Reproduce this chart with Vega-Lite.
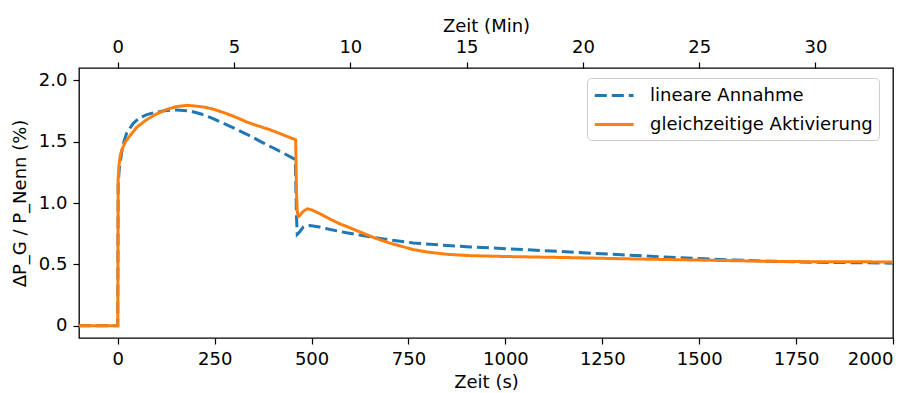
{
  "$schema": "https://vega.github.io/schema/vega-lite/v6.json",
  "width": 814,
  "height": 270,
  "autosize": {"type": "none"},
  "padding": {"left": 79, "top": 68, "right": 24, "bottom": 55},
  "config": {
    "font": "DejaVu Sans",
    "view": {"stroke": "black", "strokeWidth": 1.3},
    "axis": {
      "domain": false,
      "grid": false,
      "tickColor": "black",
      "tickSize": 6,
      "tickWidth": 1.2,
      "labelFont": "DejaVu Sans",
      "labelFontSize": 18,
      "labelColor": "black",
      "labelPadding": 6,
      "titleFont": "DejaVu Sans",
      "titleFontSize": 18,
      "titleFontWeight": "normal",
      "titleColor": "black"
    }
  },
  "datasets": {
    "curves": [
      {"t": -100, "series": "lineare Annahme", "v": 0},
      {"t": 0, "series": "lineare Annahme", "v": 0},
      {"t": 1, "series": "lineare Annahme", "v": 1.15},
      {"t": 4, "series": "lineare Annahme", "v": 1.28},
      {"t": 10, "series": "lineare Annahme", "v": 1.41},
      {"t": 16, "series": "lineare Annahme", "v": 1.5},
      {"t": 23, "series": "lineare Annahme", "v": 1.57},
      {"t": 40, "series": "lineare Annahme", "v": 1.65},
      {"t": 57, "series": "lineare Annahme", "v": 1.695},
      {"t": 75, "series": "lineare Annahme", "v": 1.72},
      {"t": 92, "series": "lineare Annahme", "v": 1.735},
      {"t": 120, "series": "lineare Annahme", "v": 1.752},
      {"t": 152, "series": "lineare Annahme", "v": 1.758},
      {"t": 186, "series": "lineare Annahme", "v": 1.75},
      {"t": 215, "series": "lineare Annahme", "v": 1.725},
      {"t": 246, "series": "lineare Annahme", "v": 1.687},
      {"t": 290, "series": "lineare Annahme", "v": 1.625},
      {"t": 333, "series": "lineare Annahme", "v": 1.56},
      {"t": 375, "series": "lineare Annahme", "v": 1.49},
      {"t": 419, "series": "lineare Annahme", "v": 1.42},
      {"t": 458, "series": "lineare Annahme", "v": 1.355},
      {"t": 461, "series": "lineare Annahme", "v": 0.9},
      {"t": 463, "series": "lineare Annahme", "v": 0.745},
      {"t": 468, "series": "lineare Annahme", "v": 0.76},
      {"t": 479, "series": "lineare Annahme", "v": 0.805},
      {"t": 496, "series": "lineare Annahme", "v": 0.816},
      {"t": 520, "series": "lineare Annahme", "v": 0.805},
      {"t": 548, "series": "lineare Annahme", "v": 0.784},
      {"t": 590, "series": "lineare Annahme", "v": 0.757},
      {"t": 650, "series": "lineare Annahme", "v": 0.725},
      {"t": 700, "series": "lineare Annahme", "v": 0.7},
      {"t": 762, "series": "lineare Annahme", "v": 0.675},
      {"t": 830, "series": "lineare Annahme", "v": 0.658},
      {"t": 909, "series": "lineare Annahme", "v": 0.642},
      {"t": 1000, "series": "lineare Annahme", "v": 0.628},
      {"t": 1100, "series": "lineare Annahme", "v": 0.612},
      {"t": 1167, "series": "lineare Annahme", "v": 0.6},
      {"t": 1300, "series": "lineare Annahme", "v": 0.578},
      {"t": 1425, "series": "lineare Annahme", "v": 0.558},
      {"t": 1550, "series": "lineare Annahme", "v": 0.54},
      {"t": 1683, "series": "lineare Annahme", "v": 0.525},
      {"t": 1800, "series": "lineare Annahme", "v": 0.517},
      {"t": 2000, "series": "lineare Annahme", "v": 0.51},
      {"t": -100, "series": "gleichzeitige Aktivierung", "v": 0},
      {"t": 0, "series": "gleichzeitige Aktivierung", "v": 0},
      {"t": 1, "series": "gleichzeitige Aktivierung", "v": 1.19},
      {"t": 3, "series": "gleichzeitige Aktivierung", "v": 1.3},
      {"t": 6, "series": "gleichzeitige Aktivierung", "v": 1.38},
      {"t": 10, "series": "gleichzeitige Aktivierung", "v": 1.43},
      {"t": 20, "series": "gleichzeitige Aktivierung", "v": 1.5},
      {"t": 32, "series": "gleichzeitige Aktivierung", "v": 1.55},
      {"t": 50, "series": "gleichzeitige Aktivierung", "v": 1.62},
      {"t": 75, "series": "gleichzeitige Aktivierung", "v": 1.68},
      {"t": 100, "series": "gleichzeitige Aktivierung", "v": 1.725},
      {"t": 125, "series": "gleichzeitige Aktivierung", "v": 1.76},
      {"t": 150, "series": "gleichzeitige Aktivierung", "v": 1.785},
      {"t": 178, "series": "gleichzeitige Aktivierung", "v": 1.796},
      {"t": 200, "series": "gleichzeitige Aktivierung", "v": 1.79},
      {"t": 225, "series": "gleichzeitige Aktivierung", "v": 1.78},
      {"t": 246, "series": "gleichzeitige Aktivierung", "v": 1.765},
      {"t": 275, "series": "gleichzeitige Aktivierung", "v": 1.735},
      {"t": 300, "series": "gleichzeitige Aktivierung", "v": 1.705},
      {"t": 333, "series": "gleichzeitige Aktivierung", "v": 1.66},
      {"t": 360, "series": "gleichzeitige Aktivierung", "v": 1.63},
      {"t": 390, "series": "gleichzeitige Aktivierung", "v": 1.6},
      {"t": 419, "series": "gleichzeitige Aktivierung", "v": 1.565},
      {"t": 459, "series": "gleichzeitige Aktivierung", "v": 1.515},
      {"t": 461, "series": "gleichzeitige Aktivierung", "v": 1.1},
      {"t": 463, "series": "gleichzeitige Aktivierung", "v": 0.93},
      {"t": 466, "series": "gleichzeitige Aktivierung", "v": 0.89},
      {"t": 470, "series": "gleichzeitige Aktivierung", "v": 0.9},
      {"t": 478, "series": "gleichzeitige Aktivierung", "v": 0.93},
      {"t": 489, "series": "gleichzeitige Aktivierung", "v": 0.953},
      {"t": 500, "series": "gleichzeitige Aktivierung", "v": 0.945},
      {"t": 520, "series": "gleichzeitige Aktivierung", "v": 0.915},
      {"t": 550, "series": "gleichzeitige Aktivierung", "v": 0.865},
      {"t": 573, "series": "gleichzeitige Aktivierung", "v": 0.83},
      {"t": 590, "series": "gleichzeitige Aktivierung", "v": 0.81},
      {"t": 620, "series": "gleichzeitige Aktivierung", "v": 0.77},
      {"t": 659, "series": "gleichzeitige Aktivierung", "v": 0.72},
      {"t": 700, "series": "gleichzeitige Aktivierung", "v": 0.675},
      {"t": 763, "series": "gleichzeitige Aktivierung", "v": 0.62},
      {"t": 800, "series": "gleichzeitige Aktivierung", "v": 0.6},
      {"t": 850, "series": "gleichzeitige Aktivierung", "v": 0.582},
      {"t": 909, "series": "gleichzeitige Aktivierung", "v": 0.571},
      {"t": 1000, "series": "gleichzeitige Aktivierung", "v": 0.564},
      {"t": 1167, "series": "gleichzeitige Aktivierung", "v": 0.555},
      {"t": 1300, "series": "gleichzeitige Aktivierung", "v": 0.546},
      {"t": 1425, "series": "gleichzeitige Aktivierung", "v": 0.539},
      {"t": 1550, "series": "gleichzeitige Aktivierung", "v": 0.532},
      {"t": 1683, "series": "gleichzeitige Aktivierung", "v": 0.525},
      {"t": 1800, "series": "gleichzeitige Aktivierung", "v": 0.521},
      {"t": 2000, "series": "gleichzeitige Aktivierung", "v": 0.52}
    ],
    "minutes": [
      {"min": 0},
      {"min": 30}
    ]
  },
  "layer": [
    {
      "layer": [
        {
          "data": {"name": "curves"},
          "transform": [{"filter": "datum.series == 'lineare Annahme'"}],
          "mark": {"type": "line", "strokeWidth": 3, "clip": true},
          "encoding": {
            "x": {"field": "t", "type": "quantitative", "scale": {"domain": [-100, 2000], "nice": false, "zero": false},
                  "axis": {"title": "Zeit (s)", "titlePadding": 5, "values": [0, 250, 500, 750, 1000, 1250, 1500, 1750, 2000], "format": "d"}},
            "y": {"field": "v", "type": "quantitative", "scale": {"domain": [-0.1, 2.1], "nice": false, "zero": false},
                  "axis": {"title": "ΔP_G / P_Nenn (%)", "values": [0, 0.5, 1, 1.5, 2], "labelExpr": "datum.value == 0 ? '0' : format(datum.value, '.1f')", "titlePadding": 9}},
            "color": {"field": "series", "type": "nominal",
                      "scale": {"domain": ["lineare Annahme", "gleichzeitige Aktivierung"], "range": ["#1f77b4", "#ff7f0e"]},
                      "legend": {"title": null, "orient": "none", "legendX": 508, "legendY": 10, "symbolType": "M-1,0H3", "symbolSize": 376, "symbolStrokeWidth": 3, "labelFont": "DejaVu Sans", "labelFontSize": 18, "labelColor": "black", "labelOffset": 34, "labelLimit": 500, "rowPadding": 8, "padding": 6, "fillColor": "white", "strokeColor": "#cccccc", "cornerRadius": 4}},
            "strokeDash": {"field": "series", "type": "nominal",
                           "scale": {"domain": ["lineare Annahme", "gleichzeitige Aktivierung"], "range": [[12, 5], [1, 0]]},
                           "legend": {"title": null, "orient": "none", "legendX": 508, "legendY": 10, "symbolType": "M-1,0H3", "symbolSize": 376, "symbolStrokeWidth": 3, "labelFont": "DejaVu Sans", "labelFontSize": 18, "labelColor": "black", "labelOffset": 34, "labelLimit": 500, "rowPadding": 8, "padding": 6, "fillColor": "white", "strokeColor": "#cccccc", "cornerRadius": 4}}
          }
        },
        {
          "data": {"name": "curves"},
          "transform": [{"filter": "datum.series == 'gleichzeitige Aktivierung'"}],
          "mark": {"type": "line", "strokeWidth": 3, "clip": true},
          "encoding": {
            "x": {"field": "t", "type": "quantitative"},
            "y": {"field": "v", "type": "quantitative"},
            "color": {"field": "series", "type": "nominal"},
            "strokeDash": {"field": "series", "type": "nominal"}
          }
        }
      ]
    },
    {
      "data": {"name": "minutes"},
      "mark": {"type": "point", "opacity": 0},
      "encoding": {
        "x": {"field": "min", "type": "quantitative", "scale": {"domain": [-1.6667, 33.3333], "nice": false, "zero": false},
              "axis": {"orient": "top", "title": "Zeit (Min)", "titlePadding": 3, "values": [0, 5, 10, 15, 20, 25, 30], "format": "d"}}
      }
    }
  ],
  "resolve": {"scale": {"x": "independent"}, "axis": {"x": "independent"}}
}
